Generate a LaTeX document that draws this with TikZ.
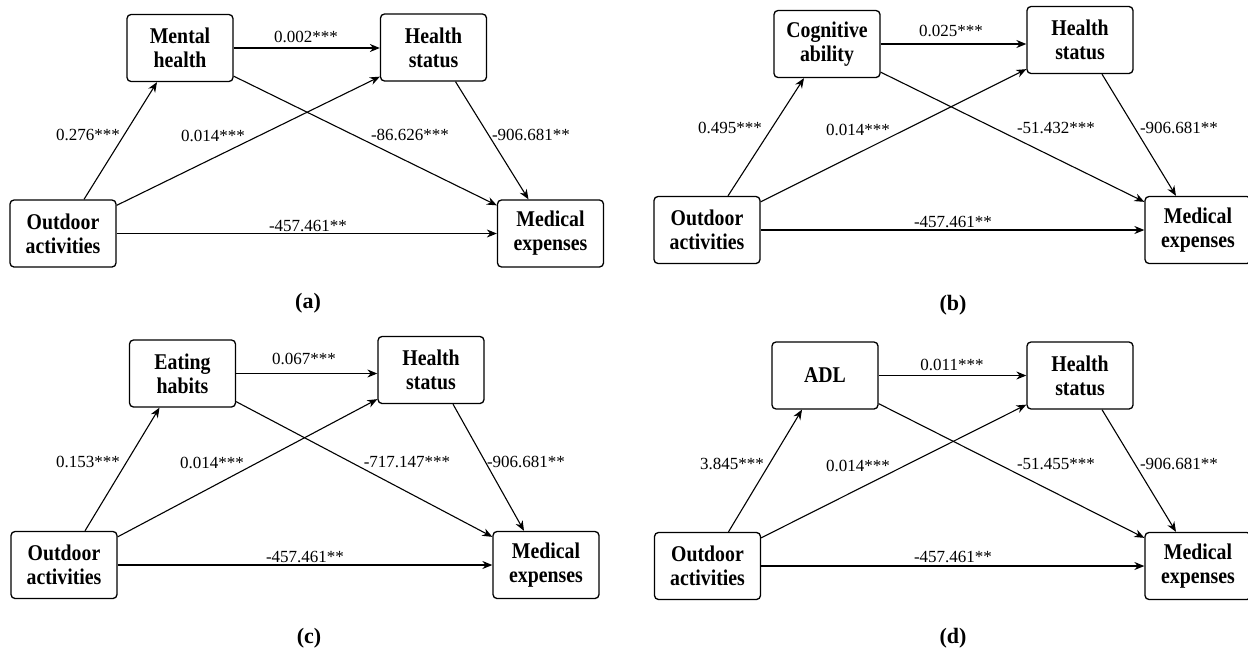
\documentclass[tikz,border=0pt]{standalone}
\usepackage{fontspec}
\setmainfont{Liberation Serif}
\newfontfamily\boxfont[FakeStretch=0.88]{Liberation Serif}
\usetikzlibrary{arrows.meta,calc}
\newcommand\drawpanelarrows[1]{%
  \draw[arr] ($(#1O.north)+(21,0)$) -- ($(#1M.south)+(-23,0)$);
  \draw[arr] ($(#1O.north east)+(0,6)$) -- ($(#1H.south west)+(0,-5)$);
  \draw[arr] ($(#1M.south east)+(0,-6)$) -- ($(#1E.north west)+(0,6)$);
  \draw[arr] ($(#1H.south)+(22,0)$) -- ($(#1E.north)+(-22,0)$);
  \draw[arr] (#1M.east) -- (#1M.east -| #1H.west);
  \draw[arr] (#1O.east) -- (#1E.west);
}
\begin{document}
\begin{tikzpicture}[x=1pt,y=-1pt,
  box/.style={draw, line width=1.3pt, rounded corners=4pt, minimum width=106pt,
    minimum height=67pt, inner sep=0pt, align=center,
    font=\boxfont\bfseries\fontsize{22.5}{24}\selectfont},
  lab/.style={inner sep=0pt, font=\fontsize{17}{19}\selectfont},
  panelcap/.style={inner sep=0pt, font=\bfseries\fontsize{22}{24}\selectfont},
  arr/.style={line width=1.1pt, -{Stealth[length=10pt,width=8pt]}}]
\useasboundingbox (0,0) rectangle (1248,648);
\fill[white] (0,0) rectangle (1248,648);

% ---------- panel (a)
\node[box] (aO) at (63,233.5) {Outdoor\\activities};
\node[box] (aM) at (180,48) {Mental\\health};
\node[box] (aH) at (433.5,47.5) {Health\\status};
\node[box] (aE) at (550.5,233.5) {Medical\\expenses};
\drawpanelarrows{a}
\node[lab] (al1) at (306,37) {0.002***};
\node[lab] (al2) at (88,135) {0.276***};
\node[lab] (al3) at (213,136) {0.014***};
\node[lab] (al4) at (410,135) {-86.626***};
\node[lab] (al5) at (531,135) {-906.681**};
\node[lab] (al6) at (308,226) {-457.461**};
\node[panelcap] (acap) at (308,303) {(a)};

% ---------- panel (b)
\node[box] (bO) at (707,230) {Outdoor\\activities};
\node[box] (bM) at (827,44) {Cognitive\\ability};
\node[box] (bH) at (1080,40) {Health\\status};
\node[box] (bE) at (1198,230) {Medical\\expenses};
\drawpanelarrows{b}
\node[lab] (bl1) at (951,31) {0.025***};
\node[lab] (bl2) at (730,128) {0.495***};
\node[lab] (bl3) at (858,130) {0.014***};
\node[lab] (bl4) at (1056,128) {-51.432***};
\node[lab] (bl5) at (1179,128) {-906.681**};
\node[lab] (bl6) at (953,222) {-457.461**};
\node[panelcap] (bcap) at (953,305) {(b)};

% ---------- panel (c)
\node[box] (cO) at (64,565) {Outdoor\\activities};
\node[box] (cM) at (182.5,373.5) {Eating\\habits};
\node[box] (cH) at (431,370) {Health\\status};
\node[box] (cE) at (546,565) {Medical\\expenses};
\drawpanelarrows{c}
\node[lab] (cl1) at (304,359) {0.067***};
\node[lab] (cl2) at (88,462) {0.153***};
\node[lab] (cl3) at (212,463) {0.014***};
\node[lab] (cl4) at (407,462) {-717.147***};
\node[lab] (cl5) at (526,462) {-906.681**};
\node[lab] (cl6) at (305,557) {-457.461**};
\node[panelcap] (ccap) at (309,638) {(c)};

% ---------- panel (d)
\node[box] (dO) at (707.5,566) {Outdoor\\activities};
\node[box] (dM) at (825,375.5) {ADL};
\node[box] (dH) at (1080,375.5) {Health\\status};
\node[box] (dE) at (1198,566) {Medical\\expenses};
\drawpanelarrows{d}
\node[lab] (dl1) at (952,365) {0.011***};
\node[lab] (dl2) at (732,464) {3.845***};
\node[lab] (dl3) at (858,466) {0.014***};
\node[lab] (dl4) at (1056,464) {-51.455***};
\node[lab] (dl5) at (1179,464) {-906.681**};
\node[lab] (dl6) at (953,557) {-457.461**};
\node[panelcap] (dcap) at (953,638) {(d)};
\end{tikzpicture}
\end{document}
